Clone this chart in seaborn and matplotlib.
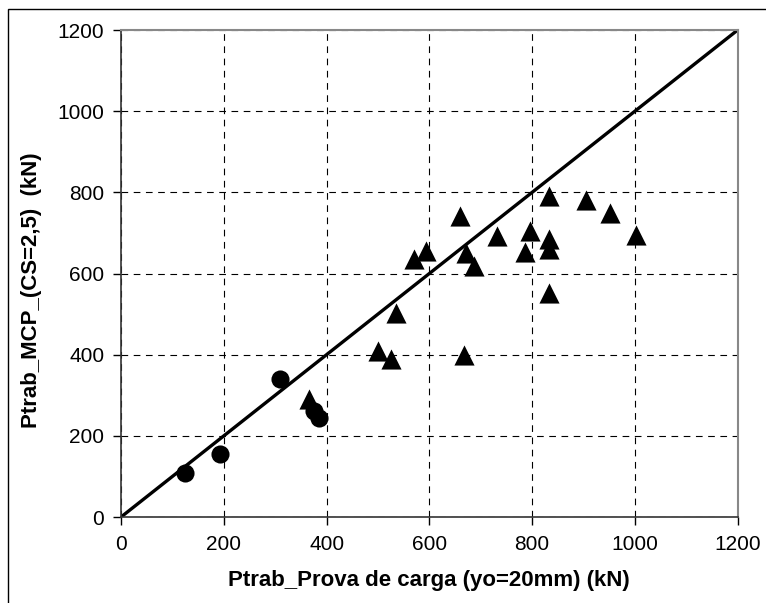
import numpy as np
import pandas as pd
import matplotlib
matplotlib.use('Agg')
import matplotlib.pyplot as plt
import seaborn as sns
from matplotlib.patches import Rectangle

# Données (kN)
circ_x = [124, 192, 309, 375, 385]
circ_y = [108, 156, 340, 260, 243]
tri_x = [365, 501, 526, 536, 571, 594, 659, 671, 668, 686, 731, 786, 795,
         833, 833, 833, 833, 905, 951, 1002]
tri_y = [292, 409, 390, 503, 635, 655, 742, 650, 400, 618, 693, 654, 704,
         790, 684, 660, 553, 780, 748, 694]

circ = pd.DataFrame({'prova': circ_x, 'mcp': circ_y})
tri = pd.DataFrame({'prova': tri_x, 'mcp': tri_y})

sns.set_style('white')
plt.rcParams['font.family'] = ['Liberation Sans', 'DejaVu Sans']
plt.rcParams['text.color'] = 'black'
plt.rcParams['axes.labelcolor'] = 'black'
plt.rcParams['xtick.color'] = 'black'
plt.rcParams['ytick.color'] = 'black'

fig = plt.figure(figsize=(7.66, 6.03), dpi=100)
ax = fig.add_axes([0.158, 0.1426, 0.805, 0.8076])

# Cadre extérieur (seuls les bords gauche et haut sont visibles)
fig.patches.append(Rectangle((8 / 766, -0.1), 1.2, 1 - 9 / 603 + 0.1,
                             transform=fig.transFigure, fill=False,
                             edgecolor='black', linewidth=1.0))

ax.plot([0, 1200], [0, 1200], color='black', linewidth=2.4, zorder=2)

sns.scatterplot(data=circ, x='prova', y='mcp', marker='o', color='black',
                s=170, linewidth=0, legend=False, ax=ax, zorder=3)
sns.scatterplot(data=tri, x='prova', y='mcp', marker='^', color='black',
                s=210, linewidth=0, legend=False, ax=ax, zorder=3)

ax.set_xlim(0, 1200)
ax.set_ylim(0, 1200)
ticks = [0, 200, 400, 600, 800, 1000, 1200]
ax.set_xticks(ticks)
ax.set_yticks(ticks)
ax.tick_params(axis='both', direction='out', length=6, width=1,
               color='black', labelsize=15, bottom=True, left=True)
ax.tick_params(axis='x', pad=7)
ax.tick_params(axis='y', pad=6)

ax.grid(True, color='black', linestyle=(0, (6, 5)), linewidth=0.8)
ax.set_axisbelow(True)

for side in ['left', 'bottom']:
    ax.spines[side].set_color('#333333')
    ax.spines[side].set_linewidth(1.2)
for side in ['top', 'right']:
    ax.spines[side].set_color('#888888')
    ax.spines[side].set_linewidth(1.5)

ax.set_xlabel('Ptrab_Prova de carga (yo=20mm) (kN)', fontsize=16,
              fontweight='bold', va='center')
ax.set_ylabel('Ptrab_MCP_(CS=2,5)  (kN)', fontsize=16,
              fontweight='bold', va='center')
ax.xaxis.set_label_coords(0.5, -(580 - 517) / 487)
ax.yaxis.set_label_coords((31 - 121) / 617, (517 - 290) / 487)

fig.savefig('out.png', dpi=100)
